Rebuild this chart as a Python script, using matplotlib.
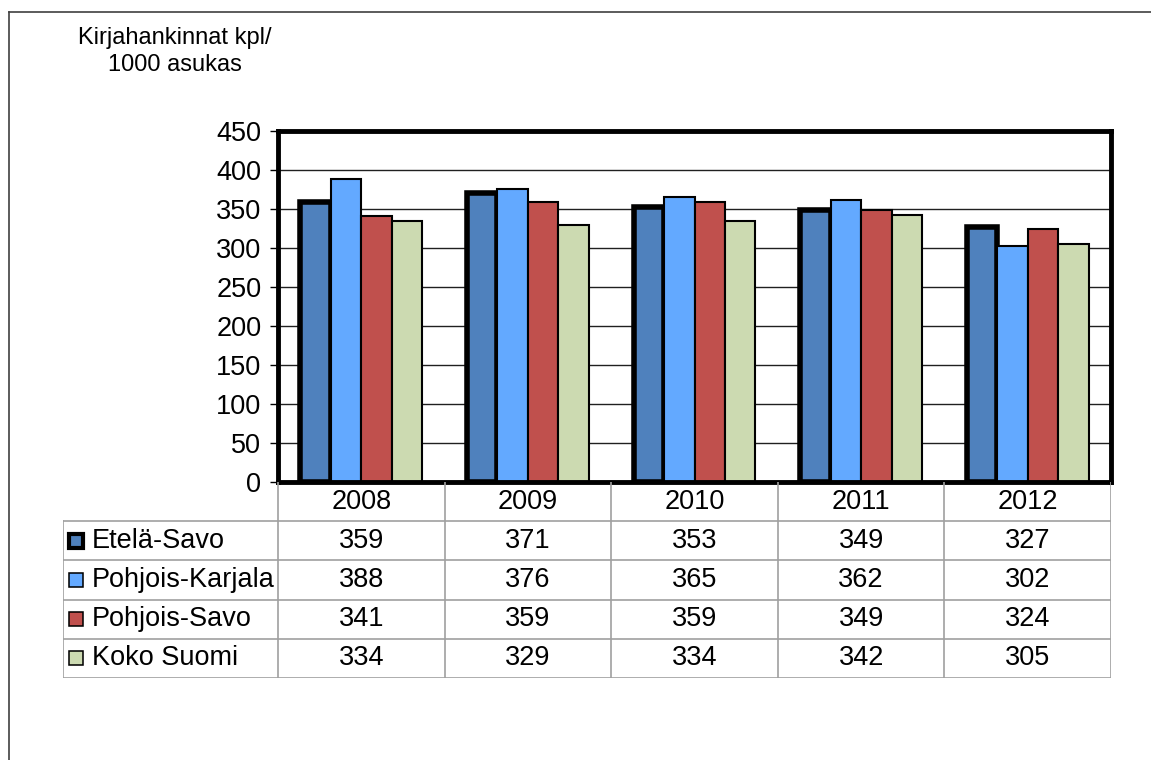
import matplotlib.pyplot as plt
from matplotlib.patches import Rectangle
from matplotlib.lines import Line2D
import numpy as np

plt.rcParams['font.family'] = ['Liberation Sans', 'DejaVu Sans']

years = ['2008', '2009', '2010', '2011', '2012']
series = ['Etelä-Savo', 'Pohjois-Karjala', 'Pohjois-Savo', 'Koko Suomi']
etela_savo = [359, 371, 353, 349, 327]
pohjois_karjala = [388, 376, 365, 362, 302]
pohjois_savo = [341, 359, 359, 349, 324]
koko_suomi = [334, 329, 334, 342, 305]
values = [etela_savo, pohjois_karjala, pohjois_savo, koko_suomi]
colors = ['#4F81BD', '#63A9FF', '#C0504D', '#CCDAB1']
edge_w = [4.0, 1.5, 1.5, 1.5]

W, H = 1151, 760
fig = plt.figure(figsize=(W / 100, H / 100), dpi=100)

# outer chart border (left and top only visible)
fig.lines.append(Line2D([9 / W, 9 / W], [0, 1 - 12 / H], transform=fig.transFigure, color='#404040', lw=1.2))
fig.lines.append(Line2D([9 / W, 1.01], [1 - 12 / H, 1 - 12 / H], transform=fig.transFigure, color='#404040', lw=1.2))

x0, x1 = 278, 1111
y_top, y_bot = 131, 482
ax = fig.add_axes([x0 / W, 1 - y_bot / H, (x1 - x0) / W, (y_bot - y_top) / H])

x = np.arange(len(years)) + 0.5
bw = 0.183
for i, (vals, c, lw) in enumerate(zip(values, colors, edge_w)):
    ax.bar(x + (i - 1.5) * bw, vals, bw, color=c, edgecolor='black', linewidth=lw, zorder=3)

ax.set_xlim(0, len(years))
ax.set_ylim(0, 450)
ax.set_yticks(range(0, 451, 50))
ax.set_xticks([])
ax.tick_params(axis='y', labelsize=19.5, length=6, width=1, direction='out', pad=6)
ax.grid(axis='y', color='#202020', lw=1, zorder=0)
for s in ax.spines.values():
    s.set_linewidth(3.5)
    s.set_zorder(5)

fig.text(175 / W, 1 - 38 / H, 'Kirjahankinnat kpl/', ha='center', va='center', fontsize=17)
fig.text(175 / W, 1 - 65 / H, '1000 asukas', ha='center', va='center', fontsize=17)

# data table
t_left, t_bot = 63, 678
tab = fig.add_axes([t_left / W, 1 - t_bot / H, (x1 - t_left) / W, (t_bot - y_bot) / H])
col_px = (x1 - x0) / len(years)
lab_w = (x0 - t_left) / col_px
tab.set_xlim(-lab_w, len(years))
tab.set_ylim(len(series) + 1, 0)
tab.axis('off')
gc = '#a0a0a0'
nrows = len(series) + 1
for r in range(1, nrows + 1):
    tab.plot([-lab_w, len(years)], [r, r], color=gc, lw=1.2)
tab.plot([-lab_w, -lab_w], [1, nrows], color=gc, lw=1.2)
for cidx in range(len(years) + 1):
    tab.plot([cidx, cidx], [0, nrows], color=gc, lw=1.2)

for j, yr in enumerate(years):
    tab.text(j + 0.5, 0.5, yr, ha='center', va='center', fontsize=19.5)
for i, name in enumerate(series):
    r = i + 1.5
    tab.add_patch(Rectangle((-lab_w + 6 / col_px, r - 0.18), 14 / col_px, 0.36, facecolor=colors[i],
                            edgecolor='black', lw=edge_w[i] * 0.75, zorder=3))
    tab.text(-lab_w + 29 / col_px, r, name, ha='left', va='center', fontsize=19.5)
    for j in range(len(years)):
        tab.text(j + 0.5, r, str(values[i][j]), ha='center', va='center', fontsize=19.5)

fig.savefig('out.png', dpi=100)
